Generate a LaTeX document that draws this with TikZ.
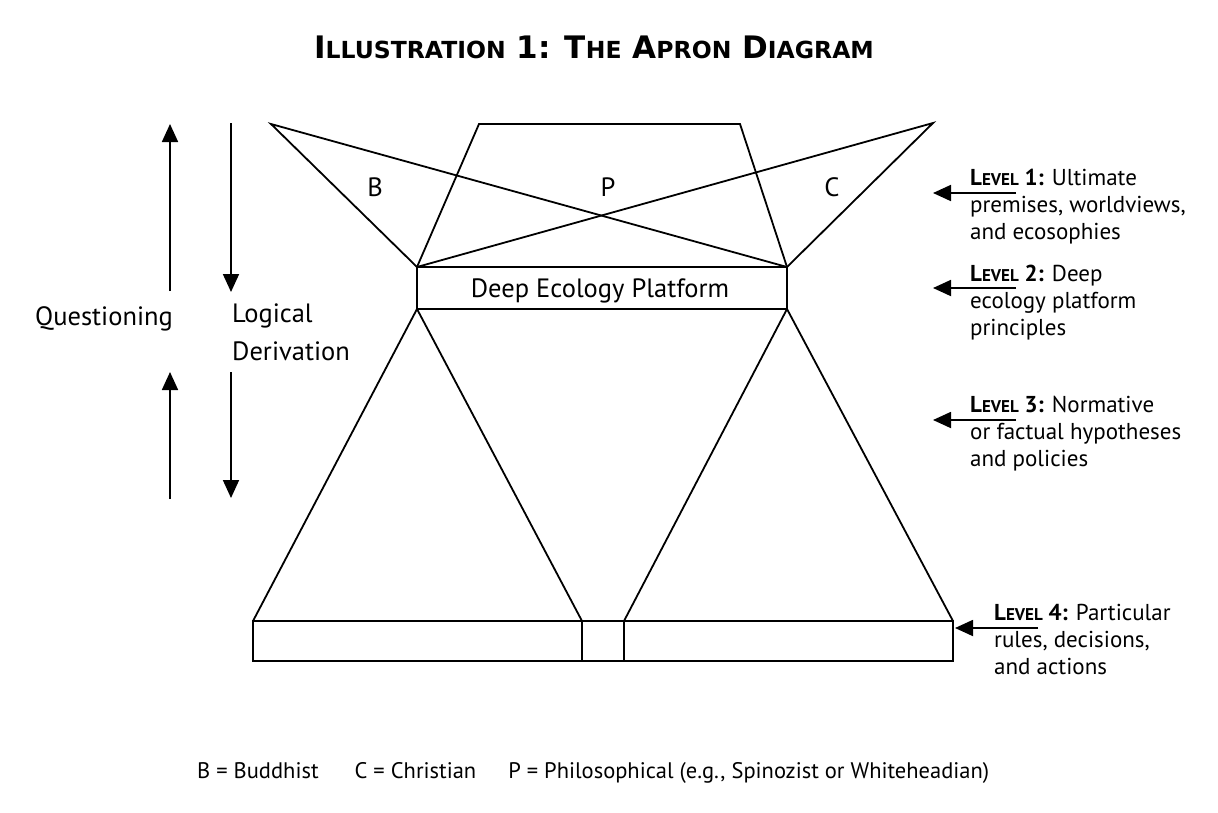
\documentclass[tikz,border=0pt]{standalone}
\usepackage{fontspec}
\setmainfont{PT Sans}
\newfontfamily\titlefont{DejaVu Sans}[BoldFont={DejaVu Sans Bold}]
\usetikzlibrary{arrows.meta}
\newcommand\tinycaps[2]{{\fontsize{#1}{#1}\selectfont #2}}
\begin{document}
\begin{tikzpicture}[x=1pt,y=-1pt,
  edge/.style={line width=1.8pt,line join=miter},
  arr/.style={line width=1.8pt,-{Triangle[length=18pt,width=16pt]}},
  lbl/.style={font=\fontsize{23}{27}\selectfont,align=left,anchor=north west,inner sep=0pt},
  txt/.style={font=\fontsize{26.5}{30}\selectfont,inner sep=0pt}]
\useasboundingbox (0,0) rectangle (1218,812);
% title
\node[inner sep=0pt,anchor=base,font=\titlefont\bfseries\fontsize{31}{31}\selectfont] (title) at (594,58)
 {I\tinycaps{23.5}{LLUSTRATION} 1: T\tinycaps{23.5}{HE} A\tinycaps{23.5}{PRON} D\tinycaps{23.5}{IAGRAM}};
% vertices
\coordinate (btl) at (271,124);
\coordinate (ctr) at (933,123);
\coordinate (ptl) at (479,124);
\coordinate (ptr) at (740,124);
\coordinate (pl) at (417,267);
\coordinate (pr) at (787,267);
\coordinate (pbl) at (417,309);
\coordinate (pbr) at (787,309);
\coordinate (a1) at (253,621);
\coordinate (a2) at (582,621);
\coordinate (a3) at (624,621);
\coordinate (a4) at (953,621);
\coordinate (b1) at (253,661);
\coordinate (b2) at (582,661);
\coordinate (b3) at (624,661);
\coordinate (b4) at (953,661);
% upper part
\draw[edge] (pl) -- (btl) -- (pr);
\draw[edge] (pr) -- (ctr) -- (pl);
\draw[edge] (pl) -- (ptl) -- (ptr) -- (pr);
\draw[edge] (pl) rectangle (pbr);
\node[txt,anchor=base] (plat) at (600,297.5) {Deep Ecology Platform};
\node[txt] (B) at (375,187) {B};
\node[txt] (P) at (608,187) {P};
\node[txt] (C) at (832,187) {C};
% lower part
\draw[edge] (a1) -- (pbl) -- (a2);
\draw[edge] (a3) -- (pbr) -- (a4);
\draw[edge] (a1) rectangle (b4);
\draw[edge] (a2) -- (b2);
\draw[edge] (a3) -- (b3);
% left arrows
\coordinate (q1s) at (170,291);
\coordinate (q1e) at (170,124);
\coordinate (q2s) at (170,499);
\coordinate (q2e) at (170,372);
\coordinate (d1s) at (231,123);
\coordinate (d1e) at (231,292);
\coordinate (d2s) at (231,372);
\coordinate (d2e) at (231,498);
\draw[arr] (q1s) -- (q1e);
\draw[arr] (q2s) -- (q2e);
\draw[arr] (d1s) -- (d1e);
\draw[arr] (d2s) -- (d2e);
\node[txt,anchor=base west] (quest) at (35,325) {Questioning};
\node[txt,anchor=base west] (logic) at (232,322) {Logical};
\node[txt,anchor=base west] (deriv) at (232,360) {Derivation};
% level labels
\node[lbl] (l1) at (970,169) {\textbf{L\tinycaps{17}{EVEL} 1:} Ultimate\\premises, worldviews,\\and ecosophies};
\node[lbl] (l2) at (970,265) {\textbf{L\tinycaps{17}{EVEL} 2:} Deep\\ecology platform\\principles};
\node[lbl] (l3) at (970,396) {\textbf{L\tinycaps{17}{EVEL} 3:} Normative\\or factual hypotheses\\and policies};
\node[lbl] (l4) at (994,604) {\textbf{L\tinycaps{17}{EVEL} 4:} Particular\\rules, decisions,\\and actions};
\coordinate (r1) at (1016,193);
\coordinate (r1t) at (933,193);
\coordinate (r2) at (1016,288);
\coordinate (r2t) at (933,288);
\coordinate (r3) at (1016,420);
\coordinate (r3t) at (933,420);
\coordinate (r4) at (1038,628);
\coordinate (r4t) at (955,628);
\draw[arr] (r1) -- (r1t);
\draw[arr] (r2) -- (r2t);
\draw[arr] (r3) -- (r3t);
\draw[arr] (r4) -- (r4t);
% legend
\node[inner sep=0pt,anchor=base west,font=\fontsize{22.5}{22.5}\selectfont] (legend) at (197,778)
 {B = Buddhist\hspace{36pt}C = Christian\hspace{32pt}P = Philosophical (e.g., Spinozist or Whiteheadian)};
\end{tikzpicture}
\end{document}
